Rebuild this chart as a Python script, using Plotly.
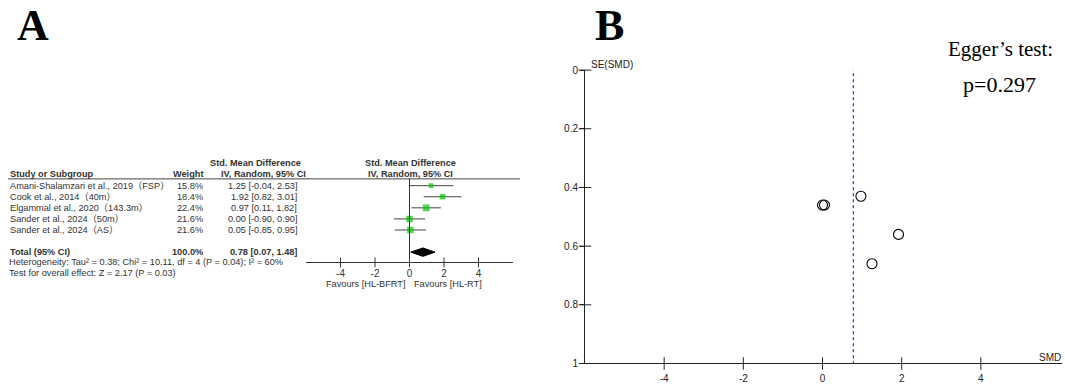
import plotly.graph_objects as go

# ---------------- data ----------------
studies = ["Amani-Shalamzari et al., 2019（FSP）", "Cook et al., 2014（40m）",
           "Elgammal et al., 2020（143.3m）", "Sander et al., 2024（50m）",
           "Sander et al., 2024（AS）"]
weights = [15.8, 18.4, 22.4, 21.6, 21.6]
smd = [1.25, 1.92, 0.97, 0.00, 0.05]
ci_lo = [-0.04, 0.82, 0.11, -0.90, -0.85]
ci_hi = [2.53, 3.01, 1.82, 0.90, 0.95]
se_smd = [0.66, 0.56, 0.43, 0.46, 0.46]
total_est, total_lo, total_hi = 0.78, 0.07, 1.48
total_weight = 100.0
heterogeneity = "Heterogeneity: Tau² = 0.38; Chi² = 10.11, df = 4 (P = 0.04); I² = 60%"
overall = "Test for overall effect: Z = 2.17 (P = 0.03)"
forest_ticks = [-4, -2, 0, 2, 4]
forest_ticktext = ["-4", "-2", "0", "2", "4"]
funnel_xticks = [-4, -2, 0, 2, 4]
funnel_xticktext = ["-4", "-2", "0", "2", "4"]
funnel_yticks = [0, 0.2, 0.4, 0.6, 0.8, 1]
funnel_yticktext = ["0", "0.2", "0.4", "0.6", "0.8", "1"]
egger_p = 0.297

W, H = 1065, 386
def px(x): return x / W
def py(y): return 1 - y / H

FONT = "Arial, 'Liberation Sans', 'Noto Sans CJK SC', sans-serif"
SERIF = "'Times New Roman', 'Liberation Serif', serif"
TXT = "#333333"
fs = 9.2

fig = go.Figure()

rows = list(range(1, len(studies) + 1))
total_row = 7

# ---------- forest plot ----------
for i, r in enumerate(rows):
    fig.add_trace(go.Scatter(x=[ci_lo[i], ci_hi[i]], y=[r, r], mode="lines",
                             line=dict(color="#444444", width=1),
                             xaxis="x", yaxis="y", showlegend=False, hoverinfo="skip"))
fig.add_trace(go.Scatter(x=smd, y=rows, mode="markers",
                         marker=dict(symbol="square", color="#00c800",
                                     size=[w * 0.3 for w in weights], line=dict(width=0)),
                         xaxis="x", yaxis="y", showlegend=False))
h = 0.38
fig.add_trace(go.Scatter(x=[total_lo, total_est, total_hi, total_est, total_lo],
                         y=[total_row, total_row - h, total_row, total_row + h, total_row],
                         mode="lines", fill="toself", fillcolor="black",
                         line=dict(color="black", width=1),
                         xaxis="x", yaxis="y", showlegend=False))
# crossing ticks on forest axis
fig.add_trace(go.Scatter(x=forest_ticks, y=[7.93] * len(forest_ticks), mode="markers",
                         marker=dict(symbol="line-ns", size=7, line=dict(color="#333", width=1)),
                         xaxis="x", yaxis="y", showlegend=False, cliponaxis=False, hoverinfo="skip"))

# ---------- funnel plot ----------
fig.add_trace(go.Scatter(x=[total_est, total_est], y=[-0.01, 1], mode="lines",
                         line=dict(color="#3a3ad0", width=1.3, dash="3px,3px"),
                         xaxis="x2", yaxis="y2", showlegend=False, cliponaxis=False))
fig.add_trace(go.Scatter(x=smd, y=se_smd, mode="markers",
                         marker=dict(symbol="circle-open", size=10, color="black",
                                     line=dict(color="black", width=1.1)),
                         xaxis="x2", yaxis="y2", showlegend=False))
fig.add_trace(go.Scatter(x=funnel_xticks, y=[1] * len(funnel_xticks), mode="markers",
                         marker=dict(symbol="line-ns", size=9, line=dict(color="#222", width=1)),
                         xaxis="x2", yaxis="y2", showlegend=False, cliponaxis=False, hoverinfo="skip"))
fig.add_trace(go.Scatter(x=[-6] * len(funnel_yticks), y=funnel_yticks, mode="markers",
                         marker=dict(symbol="line-ew", size=9, line=dict(color="#222", width=1)),
                         xaxis="x2", yaxis="y2", showlegend=False, cliponaxis=False, hoverinfo="skip"))

ann = []
def A(text, x, y, xanchor="left", yanchor="middle", size=fs, bold=False, color=TXT,
      family=FONT, yref="paper", xref="paper"):
    ann.append(dict(text=f"<b>{text}</b>" if bold else text, x=x, y=y, xref=xref, yref=yref,
                    xanchor=xanchor, yanchor=yanchor, showarrow=False, borderpad=0,
                    font=dict(size=size, color=color, family=family)))

# panel labels
A("A", px(33), py(21), xanchor="center", size=44, bold=True, color="black", family=SERIF)
A("B", px(609), py(21), xanchor="center", size=44, bold=True, color="black", family=SERIF)

# forest headers
A("Std. Mean Difference", px(209), py(163), bold=True)
A("Study or Subgroup", px(9), py(174), bold=True)
A("Weight", px(204), py(174), xanchor="right", bold=True)
A("IV, Random, 95% CI", px(220), py(174), bold=True)
A("Std. Mean Difference", px(410), py(163), xanchor="center", bold=True)
A("IV, Random, 95% CI", px(410), py(174), xanchor="center", bold=True)

for i, r in enumerate(rows):
    A(studies[i], px(9), r, yref="y")
    A(f"{weights[i]:.1f}%", px(204), r, xanchor="right", yref="y")
    A(f"{smd[i]:.2f} [{ci_lo[i]:.2f}, {ci_hi[i]:.2f}]", px(298), r, xanchor="right", yref="y")
A("Total (95% CI)", px(9), total_row, yref="y", bold=True)
A(f"{total_weight:.1f}%", px(204), total_row, xanchor="right", yref="y", bold=True)
A(f"{total_est:.2f} [{total_lo:.2f}, {total_hi:.2f}]", px(298), total_row, xanchor="right",
  yref="y", bold=True)
A(heterogeneity, px(8), py(265))
A(overall, px(8), py(276))
A("Favours [HL-BFRT]", px(406), py(287), xanchor="right")
A("Favours [HL-RT]", px(413), py(287), xanchor="left")

# funnel labels
A("SE(SMD)", px(590), py(61), size=10, color="#222")
A("SMD", px(1062), py(363), xanchor="right", size=10, color="#222")
A("Egger’s test:", px(1000), py(45), xanchor="center", size=21, color="black", family=SERIF)
A(f"p={egger_p}", px(999), py(82), xanchor="center", size=22, color="black", family=SERIF)

shapes = [
    dict(type="line", xref="paper", yref="paper", x0=px(8), x1=px(520), y0=py(179), y1=py(179),
         line=dict(color="#444444", width=1)),
    dict(type="line", xref="x", yref="y domain", x0=0, x1=0, y0=0, y1=1,
         line=dict(color="#333333", width=1)),
]

fig.update_layout(
    width=W, height=H, margin=dict(l=0, r=0, t=0, b=0),
    paper_bgcolor="white", plot_bgcolor="white",
    annotations=ann, shapes=shapes, showlegend=False,
    xaxis=dict(domain=[px(306), px(513)], range=[-6, 6], anchor="y",
               showgrid=False, zeroline=False, showline=True, linecolor="#333", linewidth=1,
               tickvals=forest_ticks, ticktext=forest_ticktext, ticks="", ticklen=0,
               ticklabelstandoff=2,
               tickfont=dict(size=10, color=TXT, family=FONT)),
    yaxis=dict(domain=[py(265), py(179)], range=[7.93, 0.39], anchor="x",
               visible=False, showgrid=False, zeroline=False),
    xaxis2=dict(domain=[px(585), px(1062)], range=[-6, 6.05], anchor="y2",
                showgrid=False, zeroline=False, showline=True, linecolor="#222", linewidth=1,
                tickvals=funnel_xticks, ticktext=funnel_xticktext, ticks="", ticklen=0,
                ticklabelstandoff=6,
                tickfont=dict(size=10, color="#222", family=FONT)),
    yaxis2=dict(domain=[py(369), py(67)], range=[1, 0], anchor="x2",
                showgrid=False, zeroline=False, showline=True, linecolor="#222", linewidth=1,
                tickvals=funnel_yticks, ticktext=funnel_yticktext,
                ticks="outside", ticklen=4, tickcolor="#222",
                tickfont=dict(size=10, color="#222", family=FONT)),
)

fig.write_html("out.html", config={"displayModeBar": False},
               post_script="document.body.style.margin='0';document.body.style.overflow='hidden';")
